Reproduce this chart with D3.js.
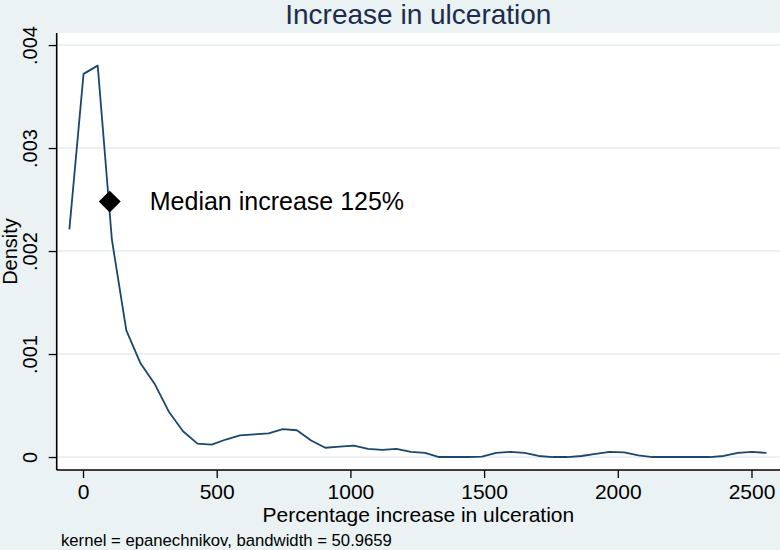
<!DOCTYPE html>
<html>
<head>
<meta charset="utf-8">
<script src="https://cdn.jsdelivr.net/npm/d3@7"></script>
<style>
  html, body { margin: 0; padding: 0; background: #EAF2F3; }
  svg { display: block; }
  text { font-family: "Liberation Sans", Arial, sans-serif; }
</style>
</head>
<body>
<div id="chart"></div>
<script>
// ---- data ----
const gridX = [-51, 2, 55, 108, 162, 215, 268, 321, 374, 428, 481, 534, 587, 640, 694, 747, 800, 853, 906, 960,
  1013, 1066, 1119, 1172, 1226, 1279, 1332, 1385, 1438, 1492, 1545, 1598, 1651, 1704, 1758, 1811, 1864, 1917, 1970, 2024,
  2077, 2130, 2183, 2236, 2290, 2343, 2396, 2449, 2502, 2556];
const density = [0.00221, 0.00372, 0.00380, 0.00211, 0.00123, 0.00091, 0.00071, 0.00044, 0.00025, 0.00013,
  0.00012, 0.00017, 0.00021, 0.00022, 0.00023, 0.00027, 0.00026, 0.00016, 0.00009, 0.00010,
  0.00011, 0.00008, 0.00007, 0.00008, 0.00005, 0.00004, 0.0, 0.0, 0.0, 0.000003,
  0.00004, 0.00005, 0.00004, 0.00001, 0.0, 0.0, 0.00001, 0.00003, 0.00005, 0.000045,
  0.000016, 0.0, 0.0, 0.0, 0.0, 0.0, 0.00001, 0.00004, 0.00005, 0.00004];
const xTicks = [0, 500, 1000, 1500, 2000, 2500];
const xTickLabels = ["0", "500", "1000", "1500", "2000", "2500"];
const yTicks = [0, 0.001, 0.002, 0.003, 0.004];
const yTickLabels = ["0", ".001", ".002", ".003", ".004"];
const medianX = [100];
const medianY = [0.00248];
const medianLabel = ["Median increase 125%"];
const titleText = "Increase in ulceration";
const xTitle = "Percentage increase in ulceration";
const yTitle = "Density";
const noteText = "kernel = epanechnikov, bandwidth = 50.9659";

// ---- layout ----
const W = 780, H = 550;
const plotL = 56.7, plotR = 780, plotT = 33, plotB = 470;
const bg = "#EAF2F3", lineColor = "#1A476F", gridColor = "#E4EDF0";

const x = d3.scaleLinear().domain([-98.4, 2606.6]).range([plotL, plotR]);
const y = d3.scaleLinear().domain([-0.000126, 0.004117]).range([plotB, plotT]);

const svg = d3.select("#chart").append("svg").attr("width", W).attr("height", H);
svg.append("rect").attr("width", W).attr("height", H).attr("fill", bg);
svg.append("rect").attr("x", plotL).attr("y", plotT).attr("width", plotR - plotL).attr("height", plotB - plotT).attr("fill", "#fff");

// gridlines
svg.append("g").selectAll("line").data(yTicks).join("line")
  .attr("x1", plotL).attr("x2", plotR)
  .attr("y1", d => y(d)).attr("y2", d => y(d))
  .attr("stroke", gridColor).attr("stroke-width", 1.5);

// density line
const pts = gridX.map((v, i) => [v, density[i]]);
svg.append("path").datum(pts)
  .attr("fill", "none").attr("stroke", lineColor).attr("stroke-width", 1.8)
  .attr("stroke-linejoin", "round")
  .attr("d", d3.line().x(d => x(d[0])).y(d => y(d[1])));

// median marker
svg.append("g").selectAll("path").data(medianX).join("path")
  .attr("transform", (d, i) => `translate(${x(d)},${y(medianY[i])}) rotate(45)`)
  .attr("d", d3.symbol().type(d3.symbolSquare).size(240)())
  .attr("fill", "#000");
svg.append("g").selectAll("text").data(medianLabel).join("text")
  .attr("x", (d, i) => x(medianX[i]) + 40).attr("y", (d, i) => y(medianY[i]) + 8)
  .attr("font-size", 25).attr("fill", "#000").text(d => d);

// x axis
const xAxis = d3.axisBottom(x).tickValues(xTicks).tickFormat((d, i) => xTickLabels[i]).tickSize(8).tickSizeOuter(0);
const gx = svg.append("g").attr("transform", `translate(0,${plotB})`).call(xAxis);
gx.select(".domain").attr("stroke", "#000").attr("stroke-width", 1.6).attr("d", `M${plotL},0H${plotR}`);
gx.selectAll(".tick line").attr("stroke", "#000").attr("stroke-width", 1.3);
gx.selectAll(".tick text").attr("font-size", 21).attr("fill", "#000").attr("dy", null).attr("y", 29)
  .attr("font-family", "Liberation Sans, Arial, sans-serif");

// y axis
const yAxis = d3.axisLeft(y).tickValues(yTicks).tickFormat((d, i) => yTickLabels[i]).tickSize(8).tickSizeOuter(0);
const gy = svg.append("g").attr("transform", `translate(${plotL},0)`).call(yAxis);
gy.select(".domain").attr("stroke", "#000").attr("stroke-width", 1.6).attr("d", `M0,${plotT}V${plotB}`);
gy.selectAll(".tick line").attr("stroke", "#000").attr("stroke-width", 1.3);
gy.selectAll(".tick text").attr("font-size", 20).attr("fill", "#000")
  .attr("x", null).attr("dy", null).attr("text-anchor", "middle")
  .attr("transform", "translate(-20,0) rotate(-90)")
  .attr("font-family", "Liberation Sans, Arial, sans-serif");

// titles
svg.append("text").attr("x", (plotL + plotR) / 2).attr("y", 24).attr("text-anchor", "middle")
  .attr("font-size", 28).attr("fill", "#1C2C4E").text(titleText);
svg.append("text").attr("x", (plotL + plotR) / 2).attr("y", 522).attr("text-anchor", "middle")
  .attr("font-size", 21).attr("fill", "#000").text(xTitle);
svg.append("text").attr("transform", `translate(17,${(plotT + plotB) / 2}) rotate(-90)`).attr("text-anchor", "middle")
  .attr("font-size", 20).attr("fill", "#000").text(yTitle);
svg.append("text").attr("x", 61).attr("y", 546)
  .attr("font-size", 16.7).attr("fill", "#000").text(noteText);
</script>
</body>
</html>
